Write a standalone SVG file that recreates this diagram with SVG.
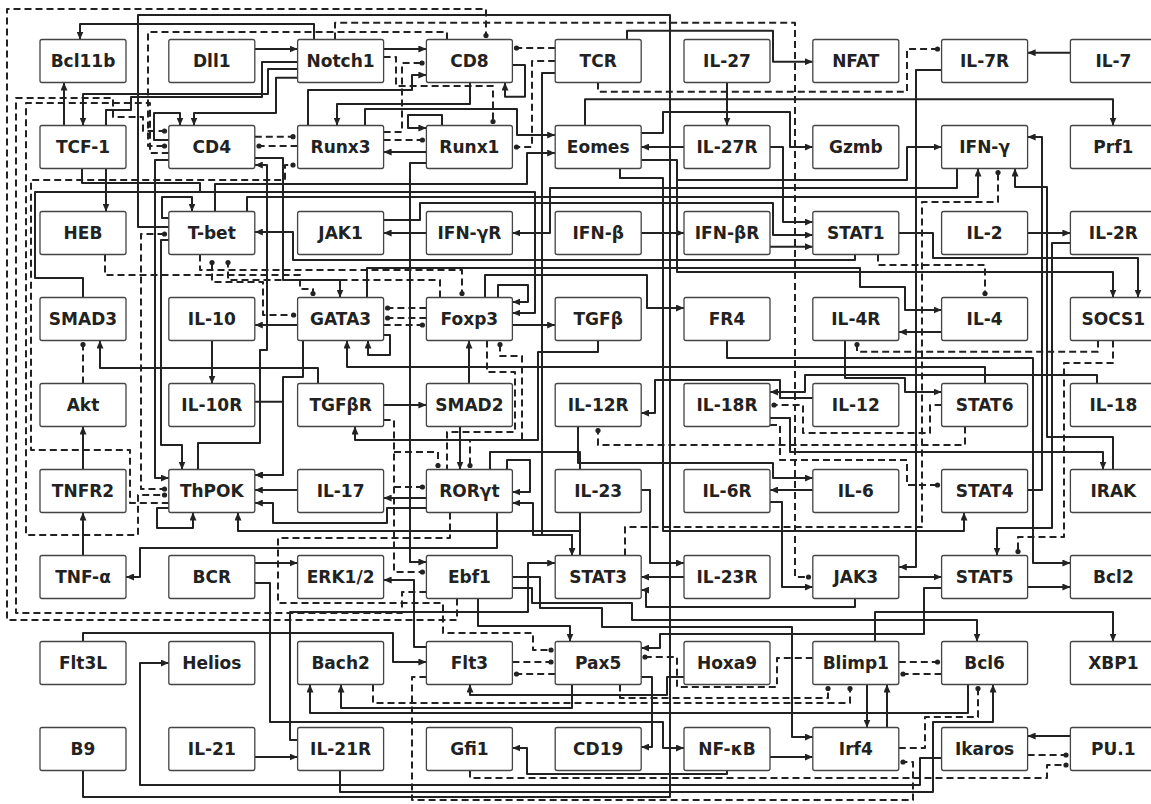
<svg xmlns="http://www.w3.org/2000/svg" width="1151" height="804" viewBox="0 0 1151 804">
<style>
.n rect{fill:#fff;stroke:#444;stroke-width:1.3}
.n text{font-family:"DejaVu Sans",sans-serif;font-weight:bold;font-size:17px;fill:#222;text-anchor:middle}
#connectors path{fill:none;stroke:#222;stroke-width:2;stroke-linejoin:round}
#connectors path.s{marker-end:url(#ar)}
#connectors path.ss{marker-start:url(#ar);marker-end:url(#ar)}
#connectors path.d{stroke-dasharray:7,4;marker-end:url(#dt)}
#connectors path.dd{stroke-dasharray:7,4;marker-start:url(#dt);marker-end:url(#dt)}
#connectors path.dn{stroke-dasharray:7,4}
</style>
<defs>
<marker id="ar" markerUnits="userSpaceOnUse" markerWidth="8" markerHeight="7" viewBox="0 0 8 7" refX="8" refY="3.5" orient="auto-start-reverse"><path d="M0,0 L8,3.5 L0,7 z" fill="#222"/></marker>
<marker id="dt" markerUnits="userSpaceOnUse" markerWidth="7" markerHeight="7" viewBox="0 0 7 7" refX="3.5" refY="3.5"><circle cx="3.5" cy="3.5" r="2.6" fill="#222"/></marker>
</defs>
<rect width="1151" height="804" fill="#fff"/>
<g id="connectors">
<path class="s" d="M255,49 L297.6,49"/>
<path class="s" d="M314,39.5 L314,24 L80,24 L80,39.5"/>
<path class="s" d="M64,125.5 L64,82.5"/>
<path class="s" d="M297.6,62 L262,62 L262,97 L131,97 L131,110 L106,110 L106,211.5"/>
<path class="s" d="M297.6,69 L268,69 L268,94 L83,94 L83,125.5"/>
<path class="s" d="M297.6,77.7 L276,77.7 L276,113 L194,113 L194,125.5"/>
<path class="s" d="M168.8,140 L154,140 L154,113 L180,113 L180,125.5"/>
<path d="M82,168.5 L82,183 L200,183 L200,192"/>
<path class="d" d="M254.8,136.7 L293,136.7"/>
<path class="d" d="M297.6,146 L259,146"/>
<path class="d" d="M447,39.5 L447,32 L148,32 L148,146 L164.5,146"/>
<path class="d" d="M335,39.5 L335,22.7 L795,22.7 L795,577 L808.5,577"/>
<path class="d" d="M457,598.5 L457,620 L7,620 L7,9 L486,9 L486,35.5"/>
<path class="d" d="M426.4,592 L402,592 L402,613 L16,613 L16,98 L113,98 L113,117 L143,117 L143,131 L164.5,131"/>
<path class="d" d="M168.8,153 L150,153 L150,103 L26,103 L26,535 L138,535 L138,495 L164.5,495"/>
<path class="d" d="M168.8,503 L130,503 L130,450 L31,450 L31,180 L285,180 L285,165 L293,165"/>
<path class="s" d="M308,125.5 L308,90 L412,90 L412,75 L426.4,75"/>
<path class="s" d="M470,82.5 L470,104 L337,104 L337,125.5"/>
<path class="s" d="M365,125.5 L365,109 L517,109 L517,135 L555.2,135"/>
<path class="s" d="M383.6,49 L426.4,49"/>
<path class="d" d="M383.6,132 L402,132 L402,63 L422,63"/>
<path class="d" d="M383.6,57 L396,57 L396,86 L493,86 L493,121.5"/>
<path class="s" d="M512.4,65 L525,65 L525,96.7 L505,96.7 L505,82.5"/>
<path class="d" d="M555.2,48 L516.5,48"/>
<path class="d" d="M555.2,61 L532,61 L532,147 L516.5,147"/>
<path class="s" d="M555.2,73 L542,73 L542,535 L572,535 L572,555.5"/>
<path class="ss" d="M512.4,503 L533,503 L533,535 L572,535 L572,555.5"/>
<path class="s" d="M627,39.5 L627,30.7 L773,30.7 L773,61.7 L812.8,61.7"/>
<path class="d" d="M598,82.5 L598,91.7 L907,91.7 L907,49 L937.5,49"/>
<path class="s" d="M727,82.5 L727,125.5"/>
<path class="s" d="M684,147 L641.2,147"/>
<path class="s" d="M585,125.5 L585,99.3 L1113,99.3 L1113,125.5"/>
<path class="s" d="M641.2,133 L663,133 L663,112 L790,112 L790,147 L812.8,147"/>
<path class="s" d="M641.2,160 L677,160 L677,180 L907,180 L907,147 L941.6,147"/>
<path class="s" d="M770,147 L783,147 L783,222 L812.8,222"/>
<path class="s" d="M641.2,233 L684,233"/>
<path class="s" d="M426.4,233 L383.6,233"/>
<path class="s" d="M957,168.5 L957,188 L550,188 L550,233 L512.4,233"/>
<path class="s" d="M770,246.7 L812.8,246.7"/>
<path class="s" d="M383.6,220 L420,220 L420,203 L773,203 L773,235 L812.8,235"/>
<path class="s" d="M1070.4,52.7 L1027.6,52.7"/>
<path class="s" d="M941.6,70 L916,70 L916,567 L898.8,567"/>
<path class="s" d="M1027.6,233 L1070.4,233"/>
<path class="s" d="M1027.6,490 L1042,490 L1042,137 L1027.6,137"/>
<path class="s" d="M1070.4,243 L1052,243 L1052,528 L997,528 L997,555.5"/>
<path class="s" d="M1113,469.5 L1113,437 L1047,437 L1047,187 L1015,187 L1015,168.5"/>
<path class="s" d="M247,211.5 L247,197 L978,197 L978,168.5"/>
<path class="s" d="M215,211.5 L215,184 L527,184 L527,153 L555.2,153"/>
<path class="s" d="M426.4,152 L383.6,152"/>
<path class="d" d="M625,555.5 L625,527 L922,527 L922,202 L998,202 L998,172.5"/>
<path class="s" d="M898.8,233 L933,233 L933,258 L1138,258 L1138,297.5"/>
<path class="s" d="M855,254.5 L855,260 L293,260 L293,232 L254.8,232"/>
<path class="d" d="M878,254.5 L878,265 L985,265 L985,293.5"/>
<path class="s" d="M941.6,332 L898.8,332"/>
<path class="s" d="M367,297.5 L367,268 L860,268 L860,287 L905,287 L905,310 L941.6,310"/>
<path class="s" d="M677,180 L677,272 L1113,272 L1113,297.5"/>
<path class="s" d="M845,340.5 L845,378 L905,378 L905,392 L941.6,392"/>
<path class="d" d="M1098,340.5 L1098,351.7 L857,351.7 L857,344.5"/>
<path class="d" d="M1113,340.5 L1113,363 L1064,363 L1064,537 L1018,537 L1018,551.5"/>
<path class="s" d="M985,383.5 L985,367 L347,367 L347,340.5"/>
<path class="s" d="M1097,383.5 L1097,375 L805,375 L805,392 L770,392"/>
<path class="s" d="M770,418 L790,418 L790,452 L1103,452 L1103,469.5"/>
<path class="s" d="M812.8,398 L780,398 L780,380 L655,380 L655,413 L641.2,413"/>
<path class="d" d="M941.6,405 L930,405 L930,433 L803,433 L803,405 L774,405"/>
<path class="d" d="M965,426.5 L965,445 L598,445 L598,430.5"/>
<path class="d" d="M770,425 L780,425 L780,460 L907,460 L907,485 L937.5,485"/>
<path class="s" d="M812.8,490 L770,490"/>
<path class="s" d="M578,426.5 L578,463 L773,463 L773,478 L812.8,478"/>
<path class="s" d="M770,502 L782,502 L782,587 L812.8,587"/>
<path class="s" d="M620,168.5 L620,178 L663,178 L663,531 L964,531 L964,512.5"/>
<path class="s" d="M727,340.5 L727,358 L1033,358 L1033,563 L1070.4,563"/>
<path class="d" d="M83,383.5 L83,344.5"/>
<path class="s" d="M83,469.5 L83,426.5"/>
<path class="s" d="M83,555.5 L83,512.5"/>
<path class="s" d="M83,297.5 L83,278 L35,278 L35,192 L535,192 L535,313 L512.4,313"/>
<path class="s" d="M212,340.5 L212,383.5"/>
<path class="s" d="M297.6,325 L254.8,325"/>
<path class="s" d="M469,383.5 L469,340.5"/>
<path class="s" d="M383.6,405 L426.4,405"/>
<path class="s" d="M460,426.5 L460,469.5"/>
<path class="s" d="M507,469.5 L507,460 L530,460 L530,492 L512.4,492"/>
<path class="s" d="M498,297.5 L498,285 L528,285 L528,302 L512.4,302"/>
<path class="s" d="M485,297.5 L485,275 L647,275 L647,308 L684,308"/>
<path class="s" d="M512.4,325 L555.2,325"/>
<path class="s" d="M598,340.5 L598,352 L538,352 L538,440 L355,440 L355,426.5"/>
<path class="d" d="M426.4,308 L387.6,308"/>
<path class="d" d="M426.4,318 L387.6,318"/>
<path class="d" d="M383.6,325 L422.4,325"/>
<path class="s" d="M383.6,335 L390,335 L390,355 L368,355 L368,340.5"/>
<path class="s" d="M426.4,498 L383.6,498"/>
<path class="s" d="M168.8,160 L155,160 L155,478 L168.8,478"/>
<path class="s" d="M168.8,240 L161,240 L161,445 L182,445 L182,469.5"/>
<path class="dd" d="M164.5,234 L141,234 L141,489 L164.5,489"/>
<path d="M83,770.5 L83,797 L670,797 L670,15 L138,15 L138,227 L168.8,227"/>
<path class="s" d="M168.8,218 L162,218 L162,197 L192,197 L192,211.5"/>
<path class="s" d="M303,340.5 L303,377 L283,377 L283,475 L254.8,475"/>
<path class="s" d="M254.8,401.7 L283,401.7 L283,475 L254.8,475"/>
<path class="s" d="M198,469.5 L198,443 L260,443 L260,350 L267,350 L267,165 L254.8,165"/>
<path class="s" d="M254.8,158 L283,158 L283,280 L340,280 L340,297.5"/>
<path class="s" d="M297.6,490 L254.8,490"/>
<path class="s" d="M426.4,508 L387,508 L387,523 L273,523 L273,503 L254.8,503"/>
<path class="s" d="M168.8,508 L157,508 L157,528 L193,528 L193,512.5"/>
<path class="s" d="M580,555.5 L580,531 L238,531 L238,512.5"/>
<path d="M490,469.5 L490,452 L580,452 L580,531"/>
<path class="s" d="M497,512.5 L497,548 L140,548 L140,577 L126,577"/>
<path class="s" d="M254.8,563 L297.6,563"/>
<path class="s" d="M254.8,583 L270,583 L270,722 L663,722 L663,748 L684,748"/>
<path class="s" d="M254.8,757 L297.6,757"/>
<path class="s" d="M340,770.5 L340,792 L933,792 L933,722 L993,722 L993,684.5"/>
<path class="s" d="M297.6,740 L290,740 L290,612 L528,612 L528,563 L555.2,563"/>
<path class="s" d="M941.6,758 L920,758 L920,785 L140,785 L140,663 L168.8,663"/>
<path class="s" d="M572,684.5 L572,708 L341,708 L341,684.5"/>
<path class="s" d="M968,684.5 L968,713 L310,713 L310,684.5"/>
<path class="s" d="M684,677 L667,677 L667,695 L470,695 L470,684.5"/>
<path class="d" d="M512.4,662 L551,662"/>
<path class="d" d="M555.2,674 L516.5,674"/>
<path class="d" d="M450,512.5 L450,538 L278,538 L278,603 L443,603 L443,633 L533,633 L533,650 L551,650"/>
<path class="s" d="M478,598.5 L478,626 L570,626 L570,641.5"/>
<path class="s" d="M512.4,577 L540,577 L540,608 L602,608 L602,627 L792,627 L792,737 L812.8,737"/>
<path class="s" d="M512.4,588 L532,588 L532,603 L632,603 L632,620 L977,620 L977,641.5"/>
<path class="s" d="M1027.6,587 L1070.4,587"/>
<path class="s" d="M898.8,577 L941.6,577"/>
<path class="s" d="M941.6,588 L924,588 L924,634 L660,634 L660,648 L641.2,648"/>
<path class="s" d="M875,641.5 L875,612 L1113,612 L1113,641.5"/>
<path class="d" d="M898.8,662 L937.5,662"/>
<path class="d" d="M941.6,674 L903,674"/>
<path class="s" d="M867,684.5 L867,727.5"/>
<path class="s" d="M887,727.5 L887,684.5"/>
<path class="s" d="M1070.4,736 L1027.6,736"/>
<path class="d" d="M1027.6,755 L1066,755"/>
<path class="d" d="M470,770.5 L470,778 L1047,778 L1047,765 L1066,765"/>
<path class="d" d="M898.8,748 L925,748 L925,717 L978,717 L978,688.5"/>
<path class="d" d="M426.4,677 L412,677 L412,800 L913,800 L913,762 L903,762"/>
<path class="s" d="M770,757 L812.8,757"/>
<path class="s" d="M727,770.5 L727,774 L527,774 L527,748 L512.4,748"/>
<path class="s" d="M641.2,677 L652,677 L652,747 L641.2,747"/>
<path class="d" d="M812.8,658 L777,658 L777,687 L677,687 L677,657 L645,657"/>
<path class="d" d="M373,684.5 L373,703 L850,703 L850,688.5"/>
<path class="d" d="M620,684.5 L620,698 L828,698 L828,688.5"/>
<path class="s" d="M641.2,490 L650,490 L650,563 L684,563"/>
<path class="s" d="M684,577 L641.2,577"/>
<path class="s" d="M855,598.5 L855,607 L646,607 L646,590 L641.2,590"/>
<path class="s" d="M442,125.5 L442,115 L408,115 L408,128 L426.4,128"/>
<path class="d" d="M383.6,140 L422.4,140"/>
<path class="s" d="M426.4,163 L410,163 L410,562 L426.4,562"/>
<path class="s" d="M318,383.5 L318,368 L100,368 L100,340.5"/>
<path class="s" d="M83,641.5 L83,633 L393,633 L393,662 L426.4,662"/>
<path class="s" d="M426.4,647 L414,647 L414,580 L383.6,580"/>
<path class="d" d="M383.6,420 L394,420 L394,572 L422.4,572"/>
<path class="d" d="M394,487 L422.4,487"/>
<path class="d" d="M394,452 L438,452 L438,465.5"/>
<path class="dn" d="M487,340.5 L487,372 L515,372 L515,432 L447,432 L447,469.5"/>
<path class="dd" d="M500,344.5 L500,356 L522,356 L522,440 L470,440 L470,465.5"/>
<path class="dd" d="M212,262.5 L212,282 L263,282 L263,315 L293.6,315"/>
<path class="d" d="M440,297.5 L440,280 L228,280 L228,262.5"/>
<path class="d" d="M105,254.5 L105,275 L300,275 L300,289 L313,289 L313,293.5"/>
<path class="d" d="M200,254.5 L200,270 L462,270 L462,293.5"/>
</g>
<g id="n-Bcl11b" class="n"><rect x="40" y="39.5" width="86" height="43" rx="2"/><text x="83" y="67">Bcl11b</text></g>
<g id="n-Dll1" class="n"><rect x="168.8" y="39.5" width="86" height="43" rx="2"/><text x="211.8" y="67">Dll1</text></g>
<g id="n-Notch1" class="n"><rect x="297.6" y="39.5" width="86" height="43" rx="2"/><text x="340.6" y="67">Notch1</text></g>
<g id="n-CD8" class="n"><rect x="426.4" y="39.5" width="86" height="43" rx="2"/><text x="469.4" y="67">CD8</text></g>
<g id="n-TCR" class="n"><rect x="555.2" y="39.5" width="86" height="43" rx="2"/><text x="598.2" y="67">TCR</text></g>
<g id="n-IL-27" class="n"><rect x="684" y="39.5" width="86" height="43" rx="2"/><text x="727" y="67">IL-27</text></g>
<g id="n-NFAT" class="n"><rect x="812.8" y="39.5" width="86" height="43" rx="2"/><text x="855.8" y="67">NFAT</text></g>
<g id="n-IL-7R" class="n"><rect x="941.6" y="39.5" width="86" height="43" rx="2"/><text x="984.6" y="67">IL-7R</text></g>
<g id="n-IL-7" class="n"><rect x="1070.4" y="39.5" width="86" height="43" rx="2"/><text x="1113.4" y="67">IL-7</text></g>
<g id="n-TCF-1" class="n"><rect x="40" y="125.5" width="86" height="43" rx="2"/><text x="83" y="153">TCF-1</text></g>
<g id="n-CD4" class="n"><rect x="168.8" y="125.5" width="86" height="43" rx="2"/><text x="211.8" y="153">CD4</text></g>
<g id="n-Runx3" class="n"><rect x="297.6" y="125.5" width="86" height="43" rx="2"/><text x="340.6" y="153">Runx3</text></g>
<g id="n-Runx1" class="n"><rect x="426.4" y="125.5" width="86" height="43" rx="2"/><text x="469.4" y="153">Runx1</text></g>
<g id="n-Eomes" class="n"><rect x="555.2" y="125.5" width="86" height="43" rx="2"/><text x="598.2" y="153">Eomes</text></g>
<g id="n-IL-27R" class="n"><rect x="684" y="125.5" width="86" height="43" rx="2"/><text x="727" y="153">IL-27R</text></g>
<g id="n-Gzmb" class="n"><rect x="812.8" y="125.5" width="86" height="43" rx="2"/><text x="855.8" y="153">Gzmb</text></g>
<g id="n-IFN-g" class="n"><rect x="941.6" y="125.5" width="86" height="43" rx="2"/><text x="984.6" y="153">IFN-γ</text></g>
<g id="n-Prf1" class="n"><rect x="1070.4" y="125.5" width="86" height="43" rx="2"/><text x="1113.4" y="153">Prf1</text></g>
<g id="n-HEB" class="n"><rect x="40" y="211.5" width="86" height="43" rx="2"/><text x="83" y="239">HEB</text></g>
<g id="n-T-bet" class="n"><rect x="168.8" y="211.5" width="86" height="43" rx="2"/><text x="211.8" y="239">T-bet</text></g>
<g id="n-JAK1" class="n"><rect x="297.6" y="211.5" width="86" height="43" rx="2"/><text x="340.6" y="239">JAK1</text></g>
<g id="n-IFN-gR" class="n"><rect x="426.4" y="211.5" width="86" height="43" rx="2"/><text x="469.4" y="239">IFN-γR</text></g>
<g id="n-IFN-b" class="n"><rect x="555.2" y="211.5" width="86" height="43" rx="2"/><text x="598.2" y="239">IFN-β</text></g>
<g id="n-IFN-bR" class="n"><rect x="684" y="211.5" width="86" height="43" rx="2"/><text x="727" y="239">IFN-βR</text></g>
<g id="n-STAT1" class="n"><rect x="812.8" y="211.5" width="86" height="43" rx="2"/><text x="855.8" y="239">STAT1</text></g>
<g id="n-IL-2" class="n"><rect x="941.6" y="211.5" width="86" height="43" rx="2"/><text x="984.6" y="239">IL-2</text></g>
<g id="n-IL-2R" class="n"><rect x="1070.4" y="211.5" width="86" height="43" rx="2"/><text x="1113.4" y="239">IL-2R</text></g>
<g id="n-SMAD3" class="n"><rect x="40" y="297.5" width="86" height="43" rx="2"/><text x="83" y="325">SMAD3</text></g>
<g id="n-IL-10" class="n"><rect x="168.8" y="297.5" width="86" height="43" rx="2"/><text x="211.8" y="325">IL-10</text></g>
<g id="n-GATA3" class="n"><rect x="297.6" y="297.5" width="86" height="43" rx="2"/><text x="340.6" y="325">GATA3</text></g>
<g id="n-Foxp3" class="n"><rect x="426.4" y="297.5" width="86" height="43" rx="2"/><text x="469.4" y="325">Foxp3</text></g>
<g id="n-TGFb" class="n"><rect x="555.2" y="297.5" width="86" height="43" rx="2"/><text x="598.2" y="325">TGFβ</text></g>
<g id="n-FR4" class="n"><rect x="684" y="297.5" width="86" height="43" rx="2"/><text x="727" y="325">FR4</text></g>
<g id="n-IL-4R" class="n"><rect x="812.8" y="297.5" width="86" height="43" rx="2"/><text x="855.8" y="325">IL-4R</text></g>
<g id="n-IL-4" class="n"><rect x="941.6" y="297.5" width="86" height="43" rx="2"/><text x="984.6" y="325">IL-4</text></g>
<g id="n-SOCS1" class="n"><rect x="1070.4" y="297.5" width="86" height="43" rx="2"/><text x="1113.4" y="325">SOCS1</text></g>
<g id="n-Akt" class="n"><rect x="40" y="383.5" width="86" height="43" rx="2"/><text x="83" y="411">Akt</text></g>
<g id="n-IL-10R" class="n"><rect x="168.8" y="383.5" width="86" height="43" rx="2"/><text x="211.8" y="411">IL-10R</text></g>
<g id="n-TGFbR" class="n"><rect x="297.6" y="383.5" width="86" height="43" rx="2"/><text x="340.6" y="411">TGFβR</text></g>
<g id="n-SMAD2" class="n"><rect x="426.4" y="383.5" width="86" height="43" rx="2"/><text x="469.4" y="411">SMAD2</text></g>
<g id="n-IL-12R" class="n"><rect x="555.2" y="383.5" width="86" height="43" rx="2"/><text x="598.2" y="411">IL-12R</text></g>
<g id="n-IL-18R" class="n"><rect x="684" y="383.5" width="86" height="43" rx="2"/><text x="727" y="411">IL-18R</text></g>
<g id="n-IL-12" class="n"><rect x="812.8" y="383.5" width="86" height="43" rx="2"/><text x="855.8" y="411">IL-12</text></g>
<g id="n-STAT6" class="n"><rect x="941.6" y="383.5" width="86" height="43" rx="2"/><text x="984.6" y="411">STAT6</text></g>
<g id="n-IL-18" class="n"><rect x="1070.4" y="383.5" width="86" height="43" rx="2"/><text x="1113.4" y="411">IL-18</text></g>
<g id="n-TNFR2" class="n"><rect x="40" y="469.5" width="86" height="43" rx="2"/><text x="83" y="497">TNFR2</text></g>
<g id="n-ThPOK" class="n"><rect x="168.8" y="469.5" width="86" height="43" rx="2"/><text x="211.8" y="497">ThPOK</text></g>
<g id="n-IL-17" class="n"><rect x="297.6" y="469.5" width="86" height="43" rx="2"/><text x="340.6" y="497">IL-17</text></g>
<g id="n-RORgt" class="n"><rect x="426.4" y="469.5" width="86" height="43" rx="2"/><text x="469.4" y="497">RORγt</text></g>
<g id="n-IL-23" class="n"><rect x="555.2" y="469.5" width="86" height="43" rx="2"/><text x="598.2" y="497">IL-23</text></g>
<g id="n-IL-6R" class="n"><rect x="684" y="469.5" width="86" height="43" rx="2"/><text x="727" y="497">IL-6R</text></g>
<g id="n-IL-6" class="n"><rect x="812.8" y="469.5" width="86" height="43" rx="2"/><text x="855.8" y="497">IL-6</text></g>
<g id="n-STAT4" class="n"><rect x="941.6" y="469.5" width="86" height="43" rx="2"/><text x="984.6" y="497">STAT4</text></g>
<g id="n-IRAK" class="n"><rect x="1070.4" y="469.5" width="86" height="43" rx="2"/><text x="1113.4" y="497">IRAK</text></g>
<g id="n-TNF-a" class="n"><rect x="40" y="555.5" width="86" height="43" rx="2"/><text x="83" y="583">TNF-α</text></g>
<g id="n-BCR" class="n"><rect x="168.8" y="555.5" width="86" height="43" rx="2"/><text x="211.8" y="583">BCR</text></g>
<g id="n-ERK12" class="n"><rect x="297.6" y="555.5" width="86" height="43" rx="2"/><text x="340.6" y="583">ERK1/2</text></g>
<g id="n-Ebf1" class="n"><rect x="426.4" y="555.5" width="86" height="43" rx="2"/><text x="469.4" y="583">Ebf1</text></g>
<g id="n-STAT3" class="n"><rect x="555.2" y="555.5" width="86" height="43" rx="2"/><text x="598.2" y="583">STAT3</text></g>
<g id="n-IL-23R" class="n"><rect x="684" y="555.5" width="86" height="43" rx="2"/><text x="727" y="583">IL-23R</text></g>
<g id="n-JAK3" class="n"><rect x="812.8" y="555.5" width="86" height="43" rx="2"/><text x="855.8" y="583">JAK3</text></g>
<g id="n-STAT5" class="n"><rect x="941.6" y="555.5" width="86" height="43" rx="2"/><text x="984.6" y="583">STAT5</text></g>
<g id="n-Bcl2" class="n"><rect x="1070.4" y="555.5" width="86" height="43" rx="2"/><text x="1113.4" y="583">Bcl2</text></g>
<g id="n-Flt3L" class="n"><rect x="40" y="641.5" width="86" height="43" rx="2"/><text x="83" y="669">Flt3L</text></g>
<g id="n-Helios" class="n"><rect x="168.8" y="641.5" width="86" height="43" rx="2"/><text x="211.8" y="669">Helios</text></g>
<g id="n-Bach2" class="n"><rect x="297.6" y="641.5" width="86" height="43" rx="2"/><text x="340.6" y="669">Bach2</text></g>
<g id="n-Flt3" class="n"><rect x="426.4" y="641.5" width="86" height="43" rx="2"/><text x="469.4" y="669">Flt3</text></g>
<g id="n-Pax5" class="n"><rect x="555.2" y="641.5" width="86" height="43" rx="2"/><text x="598.2" y="669">Pax5</text></g>
<g id="n-Hoxa9" class="n"><rect x="684" y="641.5" width="86" height="43" rx="2"/><text x="727" y="669">Hoxa9</text></g>
<g id="n-Blimp1" class="n"><rect x="812.8" y="641.5" width="86" height="43" rx="2"/><text x="855.8" y="669">Blimp1</text></g>
<g id="n-Bcl6" class="n"><rect x="941.6" y="641.5" width="86" height="43" rx="2"/><text x="984.6" y="669">Bcl6</text></g>
<g id="n-XBP1" class="n"><rect x="1070.4" y="641.5" width="86" height="43" rx="2"/><text x="1113.4" y="669">XBP1</text></g>
<g id="n-B9" class="n"><rect x="40" y="727.5" width="86" height="43" rx="2"/><text x="83" y="755">B9</text></g>
<g id="n-IL-21" class="n"><rect x="168.8" y="727.5" width="86" height="43" rx="2"/><text x="211.8" y="755">IL-21</text></g>
<g id="n-IL-21R" class="n"><rect x="297.6" y="727.5" width="86" height="43" rx="2"/><text x="340.6" y="755">IL-21R</text></g>
<g id="n-Gfi1" class="n"><rect x="426.4" y="727.5" width="86" height="43" rx="2"/><text x="469.4" y="755">Gfi1</text></g>
<g id="n-CD19" class="n"><rect x="555.2" y="727.5" width="86" height="43" rx="2"/><text x="598.2" y="755">CD19</text></g>
<g id="n-NF-kB" class="n"><rect x="684" y="727.5" width="86" height="43" rx="2"/><text x="727" y="755">NF-κB</text></g>
<g id="n-Irf4" class="n"><rect x="812.8" y="727.5" width="86" height="43" rx="2"/><text x="855.8" y="755">Irf4</text></g>
<g id="n-Ikaros" class="n"><rect x="941.6" y="727.5" width="86" height="43" rx="2"/><text x="984.6" y="755">Ikaros</text></g>
<g id="n-PU.1" class="n"><rect x="1070.4" y="727.5" width="86" height="43" rx="2"/><text x="1113.4" y="755">PU.1</text></g>
</svg>
